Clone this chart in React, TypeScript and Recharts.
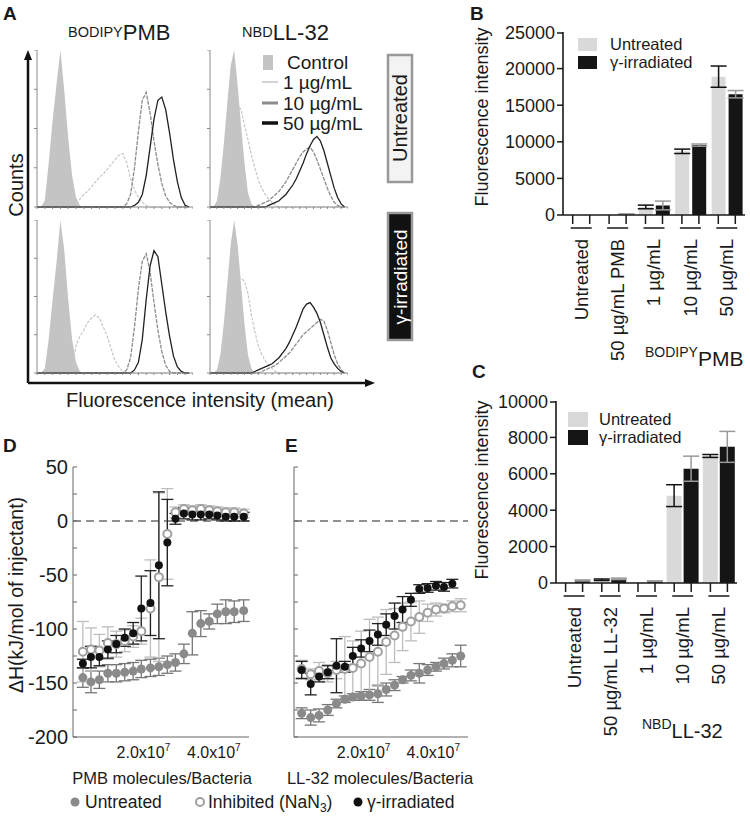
import React from 'react';
import {
  ComposedChart, Area, Line, XAxis, YAxis, BarChart, Bar, ErrorBar,
  ScatterChart, Scatter, ReferenceLine,
} from 'recharts';

const FONT = '"Liberation Sans", Arial, Helvetica, sans-serif';
const INK = '#1a1a1a';

// ---------- Panel A: flow cytometry histograms (40 log bins, % of control peak)
const pmbUntControl = [0, 0, 4, 28, 55, 78, 100, 74, 44, 20, 6, 1, 0, 0, 0, 0, 0, 0, 0, 0, 0, 0, 0, 0, 0, 0, 0, 0, 0, 0, 0, 0, 0, 0, 0, 0, 0, 0, 0, 0];
const pmbUnt1 = [0, 0, 0, 0, 0, 0, 0, 0, 0, 0, 2, 5, 8, 10, 13, 16, 19, 21, 24, 27, 30, 33, 34, 28, 18, 11, 6, 3, 1, 0, 0, 0, 0, 0, 0, 0, 0, 0, 0, 0];
const pmbUnt10 = [0, 0, 0, 0, 0, 0, 0, 0, 0, 0, 0, 0, 0, 0, 0, 0, 0, 0, 0, 0, 0, 0, 0, 2, 8, 25, 48, 68, 73, 60, 42, 27, 15, 7, 3, 1, 0, 0, 0, 0];
const pmbUnt50 = [0, 0, 0, 0, 0, 0, 0, 0, 0, 0, 0, 0, 0, 0, 0, 0, 0, 0, 0, 0, 0, 0, 0, 0, 0, 1, 3, 8, 20, 38, 56, 68, 70, 62, 47, 30, 16, 6, 1, 0];

const llUntControl = [0, 0, 4, 18, 40, 66, 90, 100, 78, 52, 28, 9, 2, 0, 0, 0, 0, 0, 0, 0, 0, 0, 0, 0, 0, 0, 0, 0, 0, 0, 0, 0, 0, 0, 0, 0, 0, 0, 0, 0];
const llUnt1 = [0, 0, 2, 8, 25, 45, 60, 66, 65, 62, 52, 43, 33, 25, 17, 12, 8, 5, 3, 1, 0, 0, 0, 0, 0, 0, 0, 0, 0, 0, 0, 0, 0, 0, 0, 0, 0, 0, 0, 0];
const llUnt10 = [0, 0, 0, 0, 0, 0, 0, 0, 0, 0, 0, 0, 0, 0, 1, 2, 3, 4, 6, 8, 10, 13, 16, 20, 24, 28, 32, 35, 37, 38, 35, 30, 24, 18, 12, 7, 3, 1, 0, 0];
const llUnt50 = [0, 0, 0, 0, 0, 0, 0, 0, 0, 0, 0, 0, 0, 0, 0, 0, 0, 1, 2, 3, 4, 6, 8, 11, 14, 18, 23, 28, 34, 39, 43, 45, 42, 36, 28, 20, 12, 6, 2, 0];

const pmbIrrControl = [0, 0, 3, 22, 48, 72, 100, 80, 48, 22, 7, 1, 0, 0, 0, 0, 0, 0, 0, 0, 0, 0, 0, 0, 0, 0, 0, 0, 0, 0, 0, 0, 0, 0, 0, 0, 0, 0, 0, 0];
const pmbIrr1 = [0, 0, 0, 0, 0, 0, 0, 0, 0, 3, 18, 24, 28, 33, 36, 38, 36, 30, 24, 16, 8, 4, 1, 0, 0, 0, 0, 0, 0, 0, 0, 0, 0, 0, 0, 0, 0, 0, 0, 0];
const pmbIrr10 = [0, 0, 0, 0, 0, 0, 0, 0, 0, 0, 0, 0, 0, 0, 0, 0, 0, 0, 0, 0, 0, 0, 0, 2, 10, 30, 55, 73, 78, 66, 46, 28, 14, 5, 1, 0, 0, 0, 0, 0];
const pmbIrr50 = [0, 0, 0, 0, 0, 0, 0, 0, 0, 0, 0, 0, 0, 0, 0, 0, 0, 0, 0, 0, 0, 0, 0, 0, 0, 2, 7, 22, 48, 70, 80, 76, 58, 40, 24, 11, 4, 1, 0, 0];

const llIrrControl = [0, 0, 2, 12, 32, 58, 84, 100, 84, 58, 32, 12, 3, 0, 0, 0, 0, 0, 0, 0, 0, 0, 0, 0, 0, 0, 0, 0, 0, 0, 0, 0, 0, 0, 0, 0, 0, 0, 0, 0];
const llIrr1 = [0, 0, 0, 6, 22, 42, 56, 62, 63, 62, 60, 52, 38, 27, 18, 12, 8, 5, 3, 1, 0, 0, 0, 0, 0, 0, 0, 0, 0, 0, 0, 0, 0, 0, 0, 0, 0, 0, 0, 0];
const llIrr10 = [0, 0, 0, 0, 0, 0, 0, 0, 0, 0, 0, 0, 0, 0, 0, 1, 2, 3, 4, 5, 7, 9, 11, 13, 16, 19, 22, 25, 27, 29, 31, 33, 35, 34, 28, 20, 12, 6, 2, 0];
const llIrr50 = [0, 0, 0, 0, 0, 0, 0, 0, 0, 0, 0, 0, 0, 1, 2, 3, 4, 5, 6, 8, 10, 13, 16, 20, 25, 30, 36, 42, 45, 46, 43, 39, 33, 25, 17, 10, 6, 3, 1, 0];

const histXTicks = [0, 2, 4, 6, 8, 10, 12, 14, 16, 18, 20, 22, 24, 26, 28, 30, 32, 34, 36, 38, 40];
const histYTicks = [0, 25, 50, 75, 100];

// ---------- Panels B / C: bar charts
const pmbCats = ['Untreated', '50 µg/mL PMB', '1 µg/mL', '10 µg/mL', '50 µg/mL'];
const pmbUntreated = [0, 40, 1100, 8700, 18900];
const pmbUntreatedErr = [0, 0, 250, 300, 1450];
const pmbIrradiated = [0, 120, 1300, 9550, 16500];
const pmbIrradiatedErr = [0, 30, 600, 150, 500];
const pmbTicks = [0, 2500, 5000, 7500, 10000, 12500, 15000, 17500, 20000, 22500, 25000];

const llCats = ['Untreated', '50 µg/mL LL-32', '1 µg/mL', '10 µg/mL', '50 µg/mL'];
const llUntreated = [40, 180, 40, 4800, 6980];
const llUntreatedErr = [0, 40, 0, 600, 80];
const llIrradiated = [140, 230, 100, 6280, 7480];
const llIrradiatedErr = [30, 40, 20, 690, 850];
const llTicks = [0, 1000, 2000, 3000, 4000, 5000, 6000, 7000, 8000, 9000, 10000];

// ---------- Panels D / E: ITC titrations
const pmbX = [0.28e7, 0.51e7, 0.75e7, 0.99e7, 1.23e7, 1.47e7, 1.71e7, 1.94e7, 2.2e7, 2.44e7, 2.68e7, 2.91e7, 3.15e7, 3.39e7, 3.63e7, 3.87e7, 4.1e7, 4.34e7, 4.58e7, 4.85e7];
const pmbUntH = [-145, -149, -147, -141, -141, -140, -139, -137, -136, -135, -133, -131, -123, -104, -95, -93, -86, -84, -84, -83];
const pmbUntE = [9, 10, 8, 8, 8, 8, 8, 8, 8, 8, 8, 8, 9, 20, 12, 7, 9, 11, 10, 10];
const pmbInhH = [-121, -119, -120, -113, -114, -111, -107, -102, -81, -52, -12, 8, 11, 10, 11, 10, 9, 8, 8, 7];
const pmbInhE = [28, 20, 15, 15, 12, 10, 10, 12, 45, 78, 42, 5, 4, 4, 4, 4, 4, 4, 4, 4];
const pmbIrrH = [-132, -126, -126, -119, -114, -108, -104, -81, -76, -41, -20, 2, 7, 6, 6, 6, 5, 4, 4, 4];
const pmbIrrE = [4, 10, 8, 8, 8, 8, 10, 30, 30, 68, 40, 5, 5, 5, 5, 4, 4, 4, 4, 4];

const llX = [0.22e7, 0.48e7, 0.72e7, 0.97e7, 1.22e7, 1.46e7, 1.69e7, 1.93e7, 2.17e7, 2.41e7, 2.65e7, 2.89e7, 3.12e7, 3.36e7, 3.6e7, 3.84e7, 4.08e7, 4.31e7, 4.55e7, 4.79e7];
const llUntH = [-178, -182, -180, -175, -169, -165, -163, -162, -161, -160, -156, -152, -147, -143, -141, -138, -135, -132, -129, -125];
const llUntE = [5, 7, 6, 5, 4, 3, 3, 4, 5, 8, 6, 5, 3, 5, 9, 5, 4, 5, 6, 10];
const llInhH = [-137, -142, -139, -141, -138, -137, -136, -132, -126, -121, -112, -106, -98, -93, -89, -85, -82, -81, -79, -78];
const llInhE = [8, 5, 8, 8, 8, 30, 25, 30, 35, 32, 30, 25, 22, 18, 15, 8, 6, 4, 5, 6];
const llIrrH = [-138, -151, -144, -140, -134, -135, -125, -118, -111, -105, -96, -88, -82, -73, -63, -62, -60, -61, -58];
const llIrrE = [8, 10, 5, 6, 25, 5, 8, 8, 10, 10, 10, 12, 12, 6, 4, 4, 4, 4, 4];

const itcYTicks = [-200, -175, -150, -125, -100, -75, -50, -25, 0, 25, 50];
const itcTopTicks = [1e7, 2e7, 3e7, 4e7, 5e7];
const itcXTicks = [2e7, 4e7];

const blank = () => '';

function Histogram({ left, top, width, height, control, c1, c10, c50 }: any) {
  const data = control.map((v: number, i: number) => ({ bin: i, control: v, c1: c1[i], c10: c10[i], c50: c50[i] }));
  return (
    <div style={{ position: 'absolute', left: left - 4, top }}>
      <ComposedChart width={width + 4} height={height + 4} data={data} margin={{ top: 0, right: 0, bottom: 0, left: 0 }}>
        <XAxis dataKey="bin" type="number" domain={[0, 40]} ticks={histXTicks} height={4} tickSize={2} stroke="#8a8a8a" tickFormatter={blank} />
        <YAxis type="number" domain={[0, 100]} ticks={histYTicks} width={4} tickSize={3} stroke="#8a8a8a" tickFormatter={blank} />
        <Area dataKey="control" type="linear" stroke="none" fill="#c4c4c4" fillOpacity={1} isAnimationActive={false} />
        <Line dataKey="c1" type="linear" stroke="#c6c6c6" strokeWidth={1.2} strokeDasharray="3 1.5" dot={false} isAnimationActive={false} />
        <Line dataKey="c10" type="linear" stroke="#8c8c8c" strokeWidth={1.3} strokeDasharray="4 1.2" dot={false} isAnimationActive={false} />
        <Line dataKey="c50" type="linear" stroke="#202020" strokeWidth={1.3} dot={false} isAnimationActive={false} />
      </ComposedChart>
    </div>
  );
}

const CatTick = ({ x, y, payload, half }: any) => (
  <g>
    <line x1={x - half} x2={x - half} y1={y} y2={y + 9} stroke={INK} strokeWidth={1.5} />
    <line x1={x + half} x2={x + half} y1={y} y2={y + 9} stroke={INK} strokeWidth={1.5} />
    <line x1={x - half - 2} x2={x + half + 2} y1={y + 13} y2={y + 13} stroke={INK} strokeWidth={1.5} />
    <text transform={`translate(${x},${y + 24}) rotate(-90)`} textAnchor="end" dy="0.35em" fontSize={18.5} fill={INK}>
      {payload.value}
    </text>
  </g>
);

const ValueTick = ({ x, y, payload, step }: any) => {
  const major = payload.value % step === 0;
  return (
    <g>
      <line x1={x - (major ? 6 : 3)} x2={x} y1={y} y2={y} stroke={INK} strokeWidth={1.5} />
      {major && (
        <text x={x - 8} y={y} dy="0.35em" textAnchor="end" fontSize={18} fill={INK}>{payload.value}</text>
      )}
    </g>
  );
};

function BarPanel({ plotLeft, plotTop, plotW, plotH, cats, u, ue, g, ge, yMax, ticks, step, barSize, barGap }: any) {
  const data = cats.map((c: string, i: number) => ({ cat: c, u: u[i], ue: ue[i], g: g[i], ge: ge[i] }));
  const yW = 80, mt = 8, mr = 5, xH = 180;
  const half = (barSize + barGap) / 2;
  const axisStyle = { stroke: INK, strokeWidth: 1.6 };
  return (
    <div style={{ position: 'absolute', left: plotLeft - yW, top: plotTop - mt }}>
      <BarChart width={yW + plotW + mr} height={mt + plotH + xH} data={data}
        margin={{ top: mt, right: mr, bottom: 0, left: 0 }} barSize={barSize} barGap={barGap}>
        <XAxis dataKey="cat" interval={0} height={xH} tickLine={false} tickSize={0} tickMargin={0}
          axisLine={axisStyle} tick={(p: any) => <CatTick {...p} half={half} />} />
        <YAxis type="number" domain={[0, yMax]} ticks={ticks} width={yW} allowDataOverflow tickLine={false}
          tickSize={0} tickMargin={0} axisLine={axisStyle} tick={(p: any) => <ValueTick {...p} step={step} />} />
        <Bar dataKey="u" fill="#d9d9d9" isAnimationActive={false}>
          <ErrorBar dataKey="ue" width={8} stroke="#111" strokeWidth={1.5} />
        </Bar>
        <Bar dataKey="g" fill="#151515" isAnimationActive={false}>
          <ErrorBar dataKey="ge" width={8} stroke="#9a9a9a" strokeWidth={1.5} />
        </Bar>
      </BarChart>
    </div>
  );
}

const ItcYTick = ({ x, y, payload, showLabels }: any) => {
  const major = payload.value % 50 === 0;
  return (
    <g>
      <line x1={x} x2={x + 4} y1={y} y2={y} stroke="#666" strokeWidth={1} />
      {showLabels && major && (
        <text x={x - 5} y={y} dy="0.35em" textAnchor="end" fontSize={20} fill={INK}>{payload.value}</text>
      )}
    </g>
  );
};

const ItcXTick = ({ x, y, payload }: any) => (
  <text x={x} y={y + 21} textAnchor="middle" fontSize={16} fill={INK}>
    <tspan>{(payload.value / 1e7).toFixed(1)}x10</tspan>
    <tspan dy={-7} fontSize={10}>7</tspan>
  </text>
);

const dotShape = (fill: string, stroke: string, r: number, sw: number) => (p: any) => (
  <circle cx={p.cx} cy={p.cy} r={r} fill={fill} stroke={stroke} strokeWidth={sw} />
);

function ItcPanel({ plotLeft, plotTop, plotW, plotH, yW, showLabels, xs, untH, untE, inhH, inhE, irrH, irrE }: any) {
  const mt = 10, mr = 10, xH = 25;
  const untreated = untH.map((v: number, i: number) => ({ x: xs[i], y: v, e: untE[i] }));
  const inhibited = inhH.map((v: number, i: number) => ({ x: xs[i], y: v, e: inhE[i] }));
  const irradiated = irrH.map((v: number, i: number) => ({ x: xs[i], y: v, e: irrE[i] }));
  const frame = { stroke: '#666', strokeWidth: 1 };
  return (
    <div style={{ position: 'absolute', left: plotLeft - yW, top: plotTop - mt }}>
      <ScatterChart width={yW + plotW + mr} height={mt + plotH + xH} margin={{ top: mt, right: mr, bottom: 0, left: 0 }}>
        <XAxis dataKey="x" type="number" domain={[0, 5e7]} ticks={itcXTicks} height={xH} axisLine={frame}
          tickLine={false} tickSize={0} tickMargin={0} tick={(p: any) => <ItcXTick {...p} />} />
        <XAxis xAxisId="top" orientation="top" mirror dataKey="x" type="number" domain={[0, 5e7]} ticks={itcTopTicks}
          height={0} tickSize={4} stroke="#666" tickFormatter={blank} />
        <YAxis dataKey="y" type="number" domain={[-200, 50]} ticks={itcYTicks} width={yW} axisLine={frame}
          tickLine={false} tickSize={0} tickMargin={0} tick={(p: any) => <ItcYTick {...p} showLabels={showLabels} />} />
        <YAxis yAxisId="r" orientation="right" mirror dataKey="y" type="number" domain={[-200, 50]} ticks={itcYTicks}
          width={0} tickSize={4} stroke="#666" tickFormatter={blank} />
        <ReferenceLine y={0} stroke="#222" strokeWidth={1.2} strokeDasharray="8 5" />
        <Scatter data={untreated} shape={dotShape('#8a8a8a', 'none', 4.5, 0)} isAnimationActive={false}>
          <ErrorBar dataKey="e" direction="y" width={6} stroke="#777" strokeWidth={1.3} />
        </Scatter>
        <Scatter data={inhibited} shape={dotShape('#fff', '#a0a0a0', 4, 2)} isAnimationActive={false}>
          <ErrorBar dataKey="e" direction="y" width={6} stroke="#bdbdbd" strokeWidth={1.3} />
        </Scatter>
        <Scatter data={irradiated} shape={dotShape('#111', 'none', 4, 0)} isAnimationActive={false}>
          <ErrorBar dataKey="e" direction="y" width={6} stroke="#222" strokeWidth={1.3} />
        </Scatter>
      </ScatterChart>
    </div>
  );
}

function Overlay() {
  const t = { fontFamily: FONT, fill: INK };
  const rot = (x: number, y: number) => `translate(${x},${y}) rotate(-90)`;
  return (
    <svg width={750} height={823} style={{ position: 'absolute', left: 0, top: 0, pointerEvents: 'none' }}>
      <g {...t} fontWeight={700} fontSize={19}>
        <text x={3} y={20}>A</text>
        <text x={470} y={20}>B</text>
        <text x={472} y={378}>C</text>
        <text x={3} y={452}>D</text>
        <text x={285} y={452}>E</text>
      </g>
      {/* panel A titles */}
      <text {...t} x={68} y={40}><tspan fontSize={14.5} dy={-3}>BODIPY</tspan><tspan fontSize={22} dy={3}>PMB</tspan></text>
      <text {...t} x={242} y={40}><tspan fontSize={14.5} dy={-3}>NBD</tspan><tspan fontSize={22} dy={3}>LL-32</tspan></text>
      {/* panel A axes */}
      <line x1={28} y1={383} x2={28} y2={58} stroke="#111" strokeWidth={2.5} />
      <polygon points="28,50 24,60 32,60" fill="#111" />
      <line x1={28} y1={383} x2={366} y2={383} stroke="#111" strokeWidth={2.5} />
      <polygon points="375,383 365,379 365,387" fill="#111" />
      <text {...t} transform={rot(16, 185)} textAnchor="middle" dy="0.35em" fontSize={20}>Counts</text>
      <text {...t} x={200} y={407} textAnchor="middle" fontSize={20}>Fluorescence intensity (mean)</text>
      {/* panel A legend */}
      <rect x={263} y={55} width={10} height={15} fill="#c4c4c4" />
      <text {...t} x={287} y={69} fontSize={19}>Control</text>
      <line x1={262} x2={278} y1={82} y2={82} stroke="#c6c6c6" strokeWidth={1.5} />
      <text {...t} x={283} y={89} fontSize={19}>1 µg/mL</text>
      <line x1={262} x2={278} y1={103} y2={103} stroke="#8c8c8c" strokeWidth={3} />
      <text {...t} x={283} y={110} fontSize={19}>10 µg/mL</text>
      <line x1={262} x2={278} y1={123} y2={123} stroke="#111" strokeWidth={3.5} />
      <text {...t} x={283} y={130} fontSize={19}>50 µg/mL</text>
      {/* side labels */}
      <rect x={388} y={55} width={24} height={127} fill="#f3f3f3" stroke="#999" strokeWidth={2.5} />
      <text {...t} transform={rot(400, 118)} textAnchor="middle" dy="0.35em" fontSize={20}>Untreated</text>
      <rect x={388} y={213} width={24} height={127} fill="#111" stroke="#999" strokeWidth={2.5} />
      <text {...t} transform={rot(400, 277)} textAnchor="middle" dy="0.35em" fontSize={19} fill="#fff">γ-irradiated</text>
      {/* panel B/C labels */}
      <text {...t} transform={rot(482, 117)} textAnchor="middle" dy="0.35em" fontSize={18}>Fluorescence intensity</text>
      <text {...t} transform={rot(482, 490)} textAnchor="middle" dy="0.35em" fontSize={18}>Fluorescence intensity</text>
      <rect x={578} y={38} width={19} height={13} fill="#d9d9d9" />
      <text {...t} x={610} y={50} fontSize={16.5}>Untreated</text>
      <rect x={578} y={56} width={19} height={13} fill="#151515" />
      <text {...t} x={610} y={68} fontSize={16.5}>γ-irradiated</text>
      <rect x={568} y={412} width={20} height={15} fill="#d9d9d9" />
      <text {...t} x={599} y={425} fontSize={16.5}>Untreated</text>
      <rect x={568} y={430} width={20} height={15} fill="#151515" />
      <text {...t} x={599} y={443} fontSize={16.5}>γ-irradiated</text>
      <text {...t} x={645} y={366}><tspan fontSize={14} dy={-9}>BODIPY</tspan><tspan fontSize={21} dy={9}>PMB</tspan></text>
      <text {...t} x={642} y={738}><tspan fontSize={14} dy={-9}>NBD</tspan><tspan fontSize={20} dy={9}>LL-32</tspan></text>
      {/* panel D/E labels */}
      <text {...t} transform={rot(16, 595)} textAnchor="middle" dy="0.35em" fontSize={19.5}>ΔH(kJ/mol of injectant)</text>
      <text {...t} x={162} y={784} textAnchor="middle" fontSize={16.5}>PMB molecules/Bacteria</text>
      <text {...t} x={380} y={784} textAnchor="middle" fontSize={16.5}>LL-32 molecules/Bacteria</text>
      <circle cx={75} cy={802} r={4.5} fill="#8a8a8a" />
      <text {...t} x={85} y={808} fontSize={17.5}>Untreated</text>
      <circle cx={200} cy={802} r={4} fill="#fff" stroke="#a0a0a0" strokeWidth={2} />
      <text {...t} x={208} y={808} fontSize={17.5}>Inhibited (NaN<tspan fontSize={12} dy={4}>3</tspan><tspan dy={-4}>)</tspan></text>
      <circle cx={358} cy={802} r={4.5} fill="#111" />
      <text {...t} x={367} y={808} fontSize={17.5}>γ-irradiated</text>
    </svg>
  );
}

export default function App() {
  return (
    <div style={{ position: 'absolute', left: 0, top: 0, width: 750, height: 823, background: '#fff', fontFamily: FONT, overflow: 'hidden' }}>
      <Histogram left={37} top={50} width={156} height={157} control={pmbUntControl} c1={pmbUnt1} c10={pmbUnt10} c50={pmbUnt50} />
      <Histogram left={210} top={50} width={138} height={157} control={llUntControl} c1={llUnt1} c10={llUnt10} c50={llUnt50} />
      <Histogram left={37} top={220} width={156} height={153} control={pmbIrrControl} c1={pmbIrr1} c10={pmbIrr10} c50={pmbIrr50} />
      <Histogram left={210} top={220} width={138} height={153} control={llIrrControl} c1={llIrr1} c10={llIrr10} c50={llIrr50} />
      <BarPanel plotLeft={563} plotTop={32} plotW={182} plotH={183} cats={pmbCats}
        u={pmbUntreated} ue={pmbUntreatedErr} g={pmbIrradiated} ge={pmbIrradiatedErr}
        yMax={25000} ticks={pmbTicks} step={5000} barSize={14} barGap={3} />
      <BarPanel plotLeft={556} plotTop={401} plotW={181} plotH={182} cats={llCats}
        u={llUntreated} ue={llUntreatedErr} g={llIrradiated} ge={llIrradiatedErr}
        yMax={10000} ticks={llTicks} step={2000} barSize={15} barGap={2} />
      <ItcPanel plotLeft={73} plotTop={467} plotW={176} plotH={270} yW={73} showLabels
        xs={pmbX} untH={pmbUntH} untE={pmbUntE} inhH={pmbInhH} inhE={pmbInhE} irrH={pmbIrrH} irrE={pmbIrrE} />
      <ItcPanel plotLeft={294} plotTop={467} plotW={174} plotH={270} yW={20} showLabels={false}
        xs={llX} untH={llUntH} untE={llUntE} inhH={llInhH} inhE={llInhE} irrH={llIrrH} irrE={llIrrE} />
      <Overlay />
    </div>
  );
}
